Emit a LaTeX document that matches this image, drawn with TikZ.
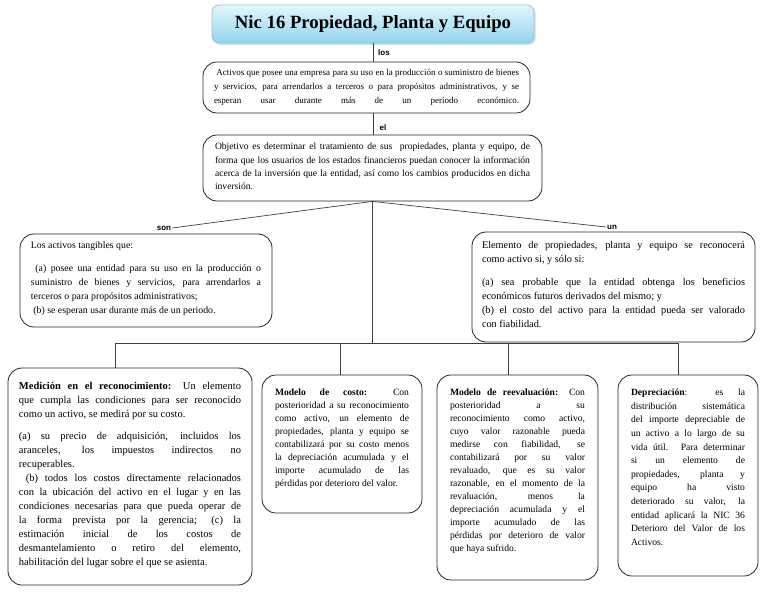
\documentclass[tikz,border=0pt]{standalone}
\usepackage{fontspec}
\setmainfont{Liberation Serif}
\setsansfont{Liberation Sans}
\usetikzlibrary{shadows, calc, positioning}
\definecolor{celesteclaro}{RGB}{226,246,252}
\definecolor{celeste}{RGB}{146,212,236}
\definecolor{bordeceleste}{RGB}{150,195,215}
\tikzset{
    caja/.style={draw=black!85, line width=0.8bp, rounded corners=14bp},
    titulo/.style={draw=bordeceleste, line width=0.8bp, rounded corners=7bp, top color=celesteclaro, bottom color=celeste,
        drop shadow={opacity=0.3, shadow xshift=1.5bp, shadow yshift=-2bp},
        minimum width=322bp, minimum height=38bp, font=\bfseries\fontsize{18.7bp}{22bp}\selectfont},
    enlace/.style={font=\sffamily\bfseries\fontsize{8bp}{9bp}\selectfont, inner sep=1bp},
    linea/.style={draw=black!75, line width=0.7bp},
}
\newcommand{\contenido}[5]{\parbox[c][#2][t]{#1}{\fontsize{#3}{#4}\selectfont\tolerance=10000\hbadness=10000 #5}}

\begin{document}
\begin{tikzpicture}[x=1bp, y=-1bp]
\useasboundingbox (0,0) rectangle (768,594);
\fill[white] (0,0) rectangle (768,594);
% Titulo
\node[titulo] (nic) at (373,24) {Nic 16 Propiedad, Planta y Equipo};
% Definicion
\node[caja, inner xsep=11bp, inner ysep=7bp] (activos) at (366.5,87.5) {\contenido{305bp}{37bp}{9bp}{14bp}{\ Activos que posee una empresa para su uso en la producción o suministro de bienes\linebreak y servicios, para arrendarlos a terceros o para propósitos administrativos, y se\linebreak esperan usar durante más de un período económico.{\parfillskip=0pt\par}}};
% Objetivo
\node[caja, inner xsep=12bp, inner ysep=8bp] (objetivo) at (372.5,168) {\contenido{315bp}{50bp}{9.6bp}{13.4bp}{Objetivo es determinar el tratamiento de sus~ propiedades, planta y equipo, de\linebreak forma que los usuarios de los estados financieros puedan conocer la información\linebreak acerca de la inversión que la entidad, así como los cambios producidos en dicha\linebreak inversión.}};
% Activos tangibles
\node[caja, inner xsep=11bp, inner ysep=8bp] (tangibles) at (146,280.5) {\contenido{230bp}{77bp}{9.8bp}{14bp}{Los activos tangibles que:\par\vspace{9bp}\ (a) posee una entidad para su uso en la producción o\linebreak suministro de bienes y servicios, para arrendarlos a\linebreak terceros o para propósitos administrativos;\par\ (b) se esperan usar durante más de un periodo.}};
% Reconocimiento
\node[caja, inner xsep=10bp, inner ysep=9bp] (elemento) at (613.5,287) {\contenido{263bp}{92bp}{10.3bp}{14bp}{Elemento de propiedades, planta y equipo se reconocerá\linebreak como activo si, y sólo si:\par\vspace{9bp}(a) sea probable que la entidad obtenga los beneficios\linebreak económicos futuros derivados del mismo; y\par(b) el costo del activo para la entidad pueda ser valorado\linebreak con fiabilidad.}};
% Medicion
\node[caja, inner xsep=11bp, inner ysep=14bp] (medicion) at (130,476.5) {\contenido{222bp}{189bp}{10.5bp}{13.9bp}{\textbf{Medición en el reconocimiento:} Un elemento\linebreak que cumpla las condiciones para ser reconocido\linebreak como un activo, se medirá por su costo.\par\vspace{9bp}(a) su precio de adquisición, incluidos los\linebreak aranceles, los impuestos indirectos no\linebreak recuperables.\par\ (b) todos los costos directamente relacionados\linebreak con la ubicación del activo en el lugar y en las\linebreak condiciones necesarias para que pueda operar de\linebreak la forma prevista por la gerencia; (c) la\linebreak estimación inicial de los costos de\linebreak desmantelamiento o retiro del elemento,\linebreak habilitación del lugar sobre el que se asienta.}};
% Modelo de costo
\node[caja, inner xsep=13bp, inner ysep=14bp] (costo) at (342,444) {\contenido{134bp}{110bp}{9.6bp}{13bp}{\textbf{Modelo de costo:} Con\linebreak posterioridad a su reconocimiento\linebreak como activo, un elemento de\linebreak propiedades, planta y equipo se\linebreak contabilizará por su costo menos\linebreak la depreciación acumulada y el\linebreak importe acumulado de las\linebreak pérdidas por deterioro del valor.}};
% Modelo de reevaluacion
\node[caja, inner xsep=13bp, inner ysep=14bp] (reeval) at (517.5,477.5) {\contenido{135bp}{177bp}{9.6bp}{13bp}{\textbf{Modelo de reevaluación:} Con\linebreak posterioridad a su\linebreak reconocimiento como activo,\linebreak cuyo valor razonable pueda\linebreak medirse con fiabilidad, se\linebreak contabilizará por su valor\linebreak revaluado, que es su valor\linebreak razonable, en el momento de la\linebreak revaluación, menos la\linebreak depreciación acumulada y el\linebreak importe acumulado de las\linebreak pérdidas por deterioro de valor\linebreak que haya sufrido.}};
% Depreciacion
\node[caja, inner xsep=13bp, inner ysep=14bp] (deprec) at (688,475.5) {\contenido{114bp}{173bp}{9.6bp}{13.6bp}{\textbf{Depreciación}: es la\linebreak distribución sistemática\linebreak del importe depreciable de\linebreak un activo a lo largo de su\linebreak vida útil. Para determinar\linebreak si un elemento de\linebreak propiedades, planta y\linebreak equipo ha visto\linebreak deteriorado su valor, la\linebreak entidad aplicará la NIC 36\linebreak Deterioro del Valor de los\linebreak Activos.}};
% Palabras de enlace
\node[enlace] (los) at (384,53) {los};
\node[enlace] (el) at (383,128) {el};
\node[enlace] (son) at (164,228) {son};
\node[enlace] (un) at (612,227) {un};
% Conectores
\draw[linea] (nic.south) -- (nic.south |- activos.north);
\draw[linea] (nic.south |- activos.south) -- (nic.south |- objetivo.north);
\draw[linea] (objetivo.south) -- (son.east);
\draw[linea] (objetivo.south) -- (un.west);
\coordinate (bus) at (370,343);
\coordinate (bajaE) at (115,343);
\coordinate (bajaF) at (340,343);
\coordinate (bajaG) at (508,343);
\coordinate (bajaH) at (678,343);
\draw[linea] (objetivo.south) -- (objetivo.south |- bus);
\draw[linea] (bajaE) -- (bajaH);
\foreach \c/\n in {bajaE/medicion, bajaF/costo, bajaG/reeval, bajaH/deprec}
    \draw[linea] (\c) -- (\c |- \n.north);
\end{tikzpicture}
\end{document}
